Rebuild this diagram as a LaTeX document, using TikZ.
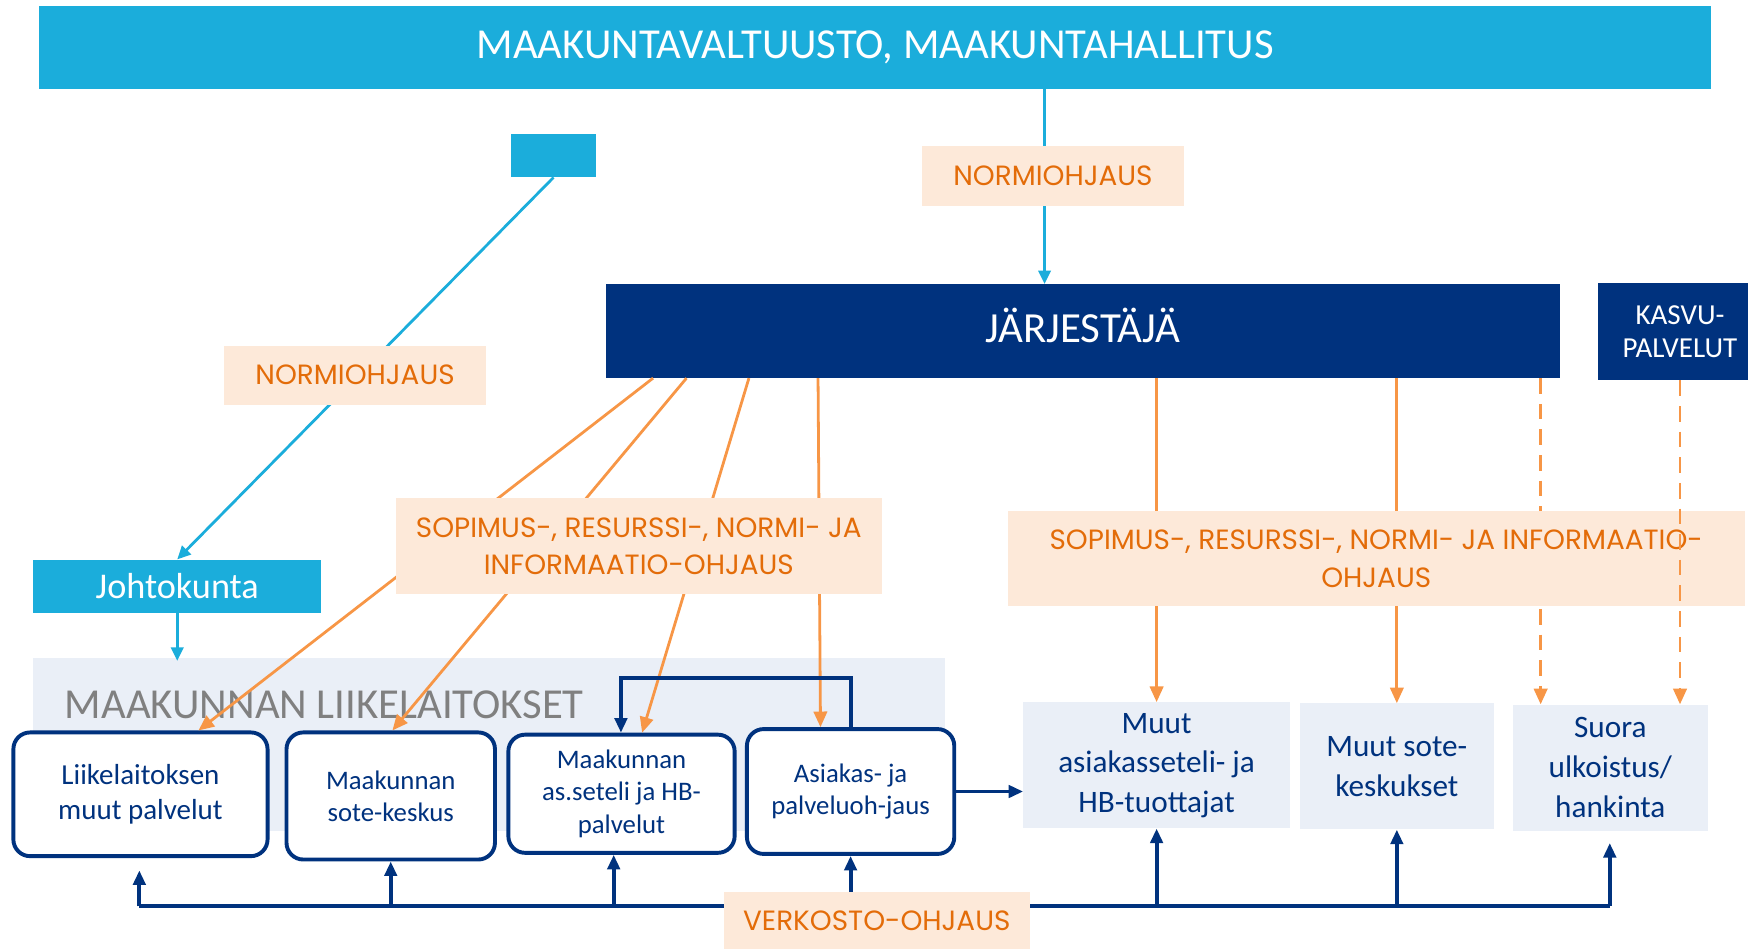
\documentclass[tikz,border=0pt]{standalone}
\usepackage{fontspec}
\setmainfont{Carlito}
\newfontfamily\gothic{Poppins}
\usetikzlibrary{arrows.meta}

\definecolor{cyanbox}{RGB}{27,173,219}
\definecolor{navybox}{RGB}{0,50,126}
\definecolor{lineorange}{RGB}{247,150,70}
\definecolor{textorange}{RGB}{227,108,9}
\definecolor{labelfill}{RGB}{253,233,217}
\definecolor{regionfill}{RGB}{234,239,247}

\tikzset{
    cyanfill/.style = {fill = cyanbox, text = white, inner sep = 0pt},
    navyfill/.style = {fill = navybox, text = white, inner sep = 0pt, align = center},
    ohjaus/.style = {fill = labelfill, text = textorange, inner sep = 0pt, align = center,
        font = \gothic\fontsize{25}{34}\selectfont},
    unitbox/.style = {draw = navybox, line width = 3.5pt, rounded corners = 15pt, fill = white,
        text = navybox, inner sep = 0pt, align = center, font = \fontsize{24}{29}\selectfont},
    outbox/.style = {fill = regionfill, text = navybox, inner sep = 0pt, align = center,
        font = \fontsize{28}{35.5}\selectfont},
    cyanline/.style = {cyanbox, line width = 2.5pt, -{Triangle[length = 12pt, width = 11pt]}},
    orangeline/.style = {lineorange, line width = 2.5pt, -{Triangle[length = 14pt, width = 12pt]}},
    navyline/.style = {navybox, line width = 3.5pt},
    navyarrow/.style = {navyline, -{Triangle[length = 13pt, width = 11pt]}},
}

\begin{document}
\begin{tikzpicture}[x = 1pt, y = -1pt]
    \useasboundingbox (0, 0) rectangle (1568, 851);

    \node[cyanfill, minimum width = 1500, minimum height = 75, font = \fontsize{38.3}{40}\selectfont]
        (banner) at (785, 42.5) {MAAKUNTAVALTUUSTO, MAAKUNTAHALLITUS};
    \node[cyanfill, minimum width = 77, minimum height = 39] (smallbox) at (496.5, 139.5) {};
    \node[navyfill, minimum width = 855, minimum height = 84, font = \fontsize{38.5}{40}\selectfont]
        (jar) at (971.5, 297) {\raisebox{10pt}{JÄRJESTÄJÄ}};
    \node[navyfill, minimum width = 148, minimum height = 87, font = \fontsize{26}{30}\selectfont]
        (kasvu) at (1507, 297.5) {KASVU-\\PALVELUT};
    \node[cyanfill, minimum width = 258, minimum height = 48, font = \fontsize{32.5}{36}\selectfont]
        (johto) at (159, 526) {Johtokunta};

    % liikelaitokset
    \node[fill = regionfill, minimum width = 818, minimum height = 155, inner sep = 0pt]
        (region) at (439, 667.5) {};
    \node[anchor = west, text = gray, inner sep = 0pt, font = \fontsize{38.3}{40}\selectfont]
        (regiontitle) at (58, 632) {MAAKUNNAN LIIKELAITOKSET};
    \node[unitbox, minimum width = 228, minimum height = 111, font = \fontsize{26}{32}\selectfont]
        (liike) at (126, 712.5) {Liikelaitoksen\\muut palvelut};
    \node[unitbox, minimum width = 187, minimum height = 114] (sote) at (350.5, 714) {Maakunnan\\sote-keskus};
    \node[unitbox, minimum width = 203, minimum height = 106] (seteli) at (557.5, 712) {Maakunnan\\as.seteli ja HB-\\palvelut};
    \node[unitbox, minimum width = 186, minimum height = 112] (asiakas) at (763, 710) {Asiakas- ja\\palveluoh-jaus};

    % muut tuottajat
    \node[outbox, minimum width = 239, minimum height = 113] (muutas) at (1037.5, 686.5) {Muut\\asiakasseteli- ja\\HB-tuottajat};
    \node[outbox, minimum width = 174, minimum height = 113] (muutsote) at (1253, 687.5) {Muut sote-\\keskukset};
    \node[outbox, minimum width = 175, minimum height = 113] (suora) at (1444.5, 688.5) {Suora\\ulkoistus/\\hankinta};

    \draw[cyanline] ([xshift = 152pt]banner.south) -- ([xshift = 152pt]banner.south |- jar.north);
    \draw[cyanline] (smallbox.south) -- (johto.north);
    \draw[cyanline] (johto.south) -- ([yshift = -3pt]johto.south |- region.north);

    \draw[orangeline] ([xshift = 42pt]jar.south west) -- ([xshift = 52pt]liike.north);
    \draw[orangeline] ([xshift = 72pt]jar.south west) -- ([xshift = 1.5pt]sote.north);
    \draw[orangeline] ([xshift = 128pt]jar.south west) -- ([xshift = 18.5pt]seteli.north);
    \draw[orangeline] ([xshift = 190pt]jar.south west) -- ([xshift = -27pt]asiakas.north);
    \draw[orangeline] (muutas.north |- jar.south) -- (muutas.north);
    \draw[orangeline] (muutsote.north |- jar.south) -- (muutsote.north);
    \draw[orangeline, dash pattern = on 14pt off 9pt] ([xshift = -62.5pt]suora.north |- jar.south) -- ([xshift = -62.5pt]suora.north);

    \draw[navyarrow] (asiakas.north) -- ++(0, -44) -| ([xshift = -0.5pt]seteli.north);
    \draw[navyarrow] (asiakas.east) -- (asiakas.east -| muutas.west);

    % verkosto
    \coordinate (busl) at (125, 813);
    \coordinate (busr) at (1444, 813);
    \draw[navyline] (busl) -- (busr);
    \draw[navyarrow] (busl) -- ([yshift = -11pt]liike.south -| busl);
    \draw[navyarrow] (sote.south |- busl) -- (sote.south);
    \draw[navyarrow] ([xshift = -7pt]seteli.south |- busl) -- ([xshift = -7pt]seteli.south);
    \draw[navyarrow] (asiakas.south |- busl) -- (asiakas.south);
    \draw[navyarrow] (muutas.south |- busl) -- (muutas.south);
    \draw[navyarrow] (muutsote.south |- busl) -- (muutsote.south);
    \draw[navyarrow] (busr) -- ([yshift = -11pt]suora.south -| busr);

    \node[ohjaus, minimum width = 235, minimum height = 54] (normtop) at (944.5, 158) {NORMIOHJAUS};
    \node[ohjaus, minimum width = 235, minimum height = 53] (normleft) at (318.5, 336.5) {NORMIOHJAUS};
    \node[ohjaus, minimum width = 436, minimum height = 86] (sopleft) at (573, 490)
        {SOPIMUS-, RESURSSI-, NORMI- JA\\INFORMAATIO-OHJAUS};
    \node[ohjaus, minimum width = 661, minimum height = 86] (sopright) at (1234.5, 501)
        {SOPIMUS-, RESURSSI-, NORMI- JA INFORMAATIO-\\OHJAUS};
    \node[ohjaus, minimum width = 275, minimum height = 51] (verk) at (786.5, 825.5) {VERKOSTO-OHJAUS};

    \draw[orangeline, dash pattern = on 14pt off 9pt] (kasvu.south) -- (kasvu.south |- suora.north);
\end{tikzpicture}
\end{document}
